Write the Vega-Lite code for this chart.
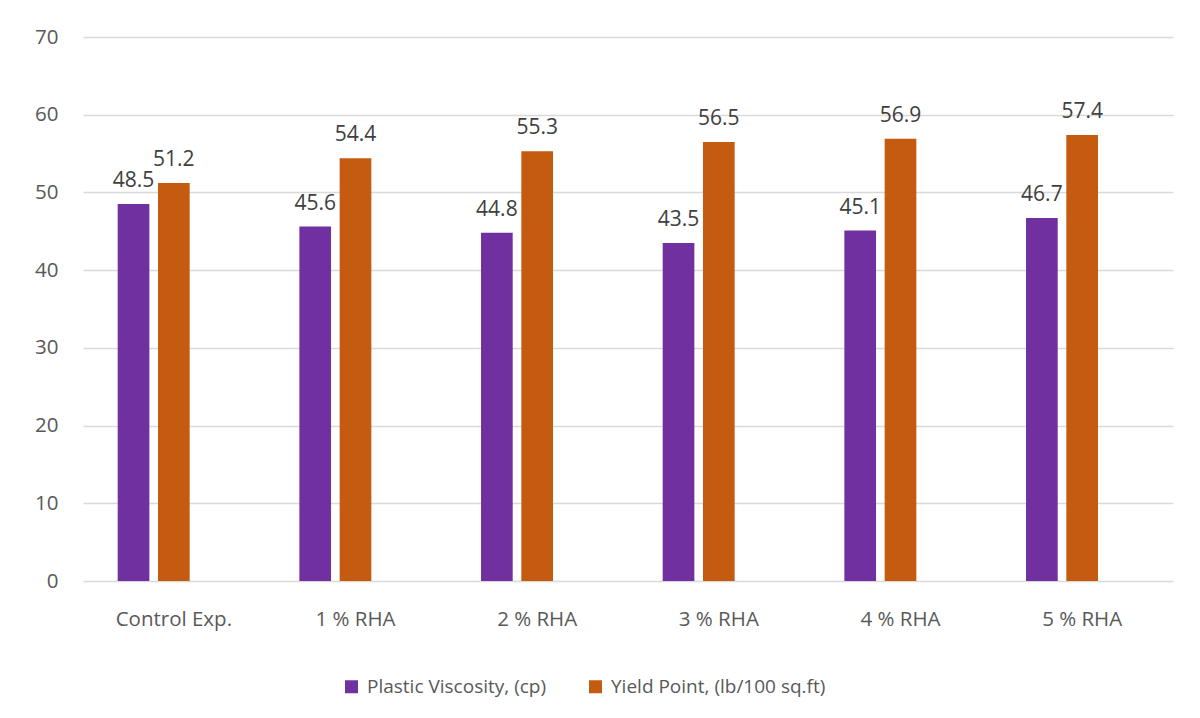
{
  "$schema": "https://vega.github.io/schema/vega-lite/v6.json",
  "width": 1090,
  "height": 544,
  "autosize": {"type": "none"},
  "padding": {"left": 83, "top": 37, "right": 27, "bottom": 137},
  "background": "white",
  "config": {
    "view": {"stroke": null},
    "font": "Open Sans"
  },
  "data": {
    "values": [
      {"group": "Control Exp.", "series": "Plastic Viscosity, (cp)", "value": 48.5},
      {"group": "Control Exp.", "series": "Yield Point, (lb/100 sq.ft)", "value": 51.2},
      {"group": "1 % RHA", "series": "Plastic Viscosity, (cp)", "value": 45.6},
      {"group": "1 % RHA", "series": "Yield Point, (lb/100 sq.ft)", "value": 54.4},
      {"group": "2 % RHA", "series": "Plastic Viscosity, (cp)", "value": 44.8},
      {"group": "2 % RHA", "series": "Yield Point, (lb/100 sq.ft)", "value": 55.3},
      {"group": "3 % RHA", "series": "Plastic Viscosity, (cp)", "value": 43.5},
      {"group": "3 % RHA", "series": "Yield Point, (lb/100 sq.ft)", "value": 56.5},
      {"group": "4 % RHA", "series": "Plastic Viscosity, (cp)", "value": 45.1},
      {"group": "4 % RHA", "series": "Yield Point, (lb/100 sq.ft)", "value": 56.9},
      {"group": "5 % RHA", "series": "Plastic Viscosity, (cp)", "value": 46.7},
      {"group": "5 % RHA", "series": "Yield Point, (lb/100 sq.ft)", "value": 57.4}
    ]
  },
  "encoding": {
    "x": {
      "field": "group",
      "type": "nominal",
      "sort": null,
      "scale": {"paddingInner": 0, "paddingOuter": 0},
      "axis": {"title": null, "labelAngle": 0, "domain": false, "ticks": false, "labelPadding": 28, "grid": false, "labelFont": "Open Sans", "labelFontSize": 20.5, "labelColor": "#595959", "labelLimit": 300}
    },
    "xOffset": {
      "field": "series",
      "type": "nominal",
      "scale": {"domain": ["Plastic Viscosity, (cp)", "Yield Point, (lb/100 sq.ft)", "_"], "paddingInner": 0.214, "paddingOuter": 0.861}
    },
    "y": {
      "field": "value",
      "type": "quantitative",
      "scale": {"domain": [0, 70]},
      "axis": {"title": null, "values": [0,10,20,30,40,50,60,70], "domain": false, "ticks": false, "labelPadding": 25, "gridColor": "#d9d9d9", "gridWidth": 1.3, "labelFont": "Open Sans", "labelFontSize": 20.5, "labelColor": "#595959"}
    }
  },
  "layer": [
    {
      "mark": {"type": "bar"},
      "encoding": {
        "color": {
          "field": "series",
          "type": "nominal",
          "scale": {"domain": ["Plastic Viscosity, (cp)", "Yield Point, (lb/100 sq.ft)"], "range": ["#7030A0", "#C55A11"]},
          "legend": {
            "title": null,
            "orient": "none",
            "direction": "horizontal",
            "legendX": 259,
            "legendY": 640,
            "symbolType": "square",
            "symbolSize": 169,
            "symbolStrokeWidth": 0,
            "symbolOpacity": 1,
            "labelOffset": 6,
            "columnPadding": 39,
            "labelLimit": 400,
            "labelFont": "Open Sans",
            "labelFontSize": 19,
            "labelColor": "#595959"
          }
        }
      }
    },
    {
      "mark": {"type": "text", "baseline": "alphabetic", "dy": -17, "fontSize": 21, "color": "#404040", "font": "Open Sans"},
      "encoding": {"text": {"field": "value", "type": "quantitative", "format": ".1f"}}
    }
  ]
}
